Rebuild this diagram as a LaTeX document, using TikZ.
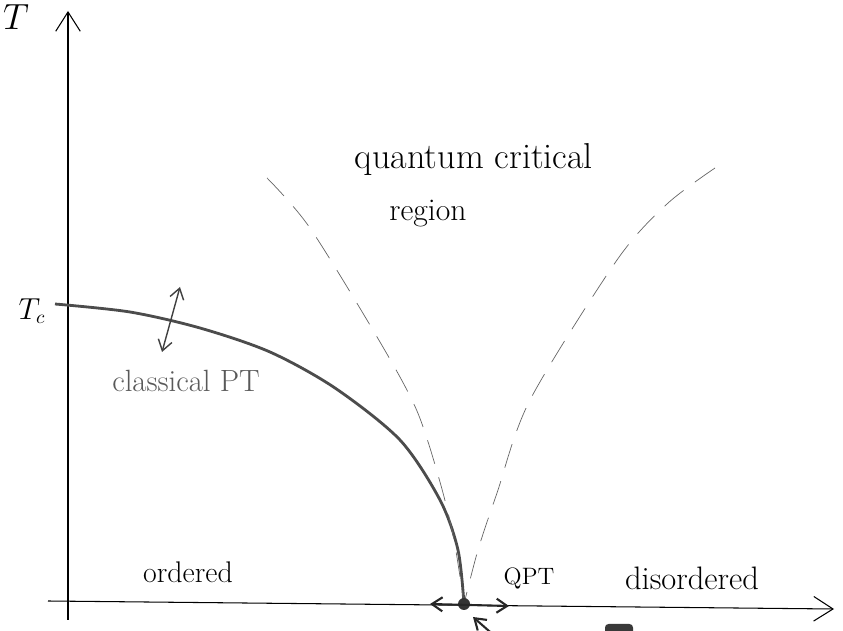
\documentclass[tikz,border=0pt]{standalone}
\usetikzlibrary{arrows.meta}
\begin{document}
\begin{tikzpicture}[x=0.02cm,y=-0.02cm,
  axis/.style={semithick,-{Straight Barb[length=11pt,width=14pt]}},
  phase/.style={gray!60!black,line width=1.6pt},
  crossover/.style={gray!80!black,thin,dash pattern=on 14pt off 8pt},
  flip/.style={thick,{Straight Barb[length=6pt,width=8pt]}-{Straight Barb[length=6pt,width=8pt]}},
  hand/.style={font=\fontsize{18}{20}\selectfont}]
  \clip (0,0) rectangle (843,631);
  % axes
  \coordinate (ybot) at (68,620);
  \coordinate (ytop) at (68,11);
  \coordinate (xleft) at (48,601);
  \coordinate (xright) at (834,609);
  \draw[axis] (ybot) -- (ytop);
  \draw[axis] (xleft) -- (xright);
  \node[font=\fontsize{20}{22}\selectfont,inner sep=1pt] (tlabel) at (16,17) {$T$};
  \node[font=\fontsize{16}{18}\selectfont] (tclabel) at (32,311) {$T_c$};
  % phase boundary and crossover lines
  \coordinate (tc) at (55,304);
  \coordinate (qcp) at (464,604);
  \draw[phase] plot[smooth] coordinates {(tc) (130,312) (200,328) (270,352)
    (335,388) (400,440) (440,500) (458,550) (qcp)};
  \draw[crossover] plot[smooth] coordinates {(267,178) (310,228) (380,342)
    (417,411) (440,482) (454,540) (qcp)};
  \draw[crossover] plot[smooth] coordinates {(715,168) (667,204) (617,260)
    (530,400) (497,493) (478,550) (qcp)};
  \fill[gray!40!black] (qcp) circle (6);
  % tuning arrows
  \coordinate (cptop) at (180,287);
  \coordinate (cpbot) at (162,352);
  \draw[flip,gray!50!black] (cptop) -- (cpbot);
  \coordinate (qptl) at (430,604);
  \coordinate (qptr) at (509,606);
  \draw[flip,very thick,gray!30!black] (qptl) -- (qptr);
  \coordinate (cuttail) at (505,645);
  \coordinate (cuttip) at (473,617);
  \draw[very thick,gray!30!black,-{Straight Barb[length=6pt,width=8pt]}] (cuttail) -- (cuttip);
  \fill[gray!45!black,rounded corners=2pt] (605,624) rectangle (633,640);
  % labels
  \node[font=\fontsize{20.5}{23}\selectfont] (qcr) at (474,160) {quantum critical};
  \node[hand] (region) at (428,214) {region};
  \node[gray!70!black,font=\fontsize{17.5}{20}\selectfont] (cpt) at (186,381) {classical PT};
  \node[font=\fontsize{17}{19}\selectfont] (ordered) at (188,572) {ordered};
  \node[font=\fontsize{13.5}{15}\selectfont] (qpt) at (529,578) {QPT};
  \node[font=\fontsize{18.5}{21}\selectfont] (disordered) at (692,578) {disordered};
\end{tikzpicture}
\end{document}
